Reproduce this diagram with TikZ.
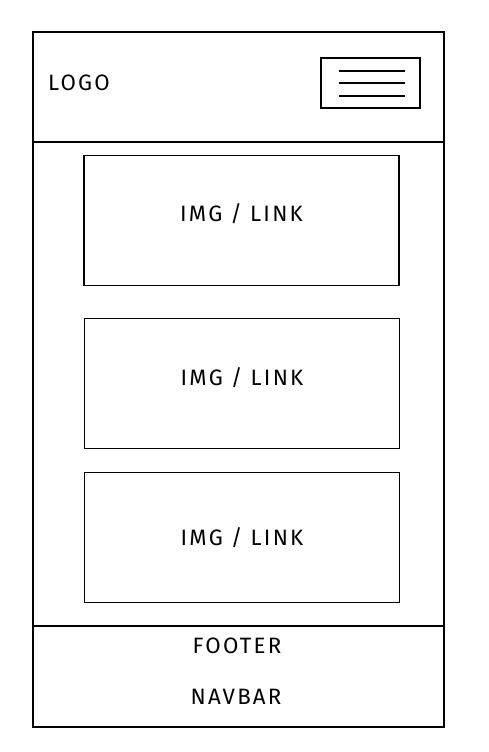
\documentclass[tikz,border=0pt]{standalone}
\usepackage{fontspec}
\setmainfont{Fira Sans}[LetterSpace=10]
\begin{document}
\begin{tikzpicture}[
    x=0.3mm, y=-0.3mm,
    frame/.style={
      rectangle,
      draw,
      line width=1.1pt,
      inner sep=0pt
    },
    card/.style={
      frame,
      minimum width=94.5mm,
      minimum height=39mm
    },
    lbl/.style={
      font=\fontsize{19}{22}\selectfont,
      inner sep=0pt
    }
  ]

  \useasboundingbox (0, 0) rectangle (488, 752);

  \node[frame, minimum width=123.3mm, minimum height=208.5mm] (page) at (238.5, 379.5) {};
  \node[frame, minimum width=123.3mm, minimum height=33mm] (header) at (238.5, 87) {};
  \node[frame, minimum width=123.3mm, minimum height=30.3mm] (footer) at (238.5, 676.5) {};

  \node[lbl, anchor=west] (logo) at (48, 83) {LOGO};
  \node[frame, line width=0.9pt, minimum width=29.7mm, minimum height=15mm] (menu) at (370.5, 83) {};
  \foreach \y in {71, 83, 96}
    \draw[line width=0.9pt] (339, \y) -- (405, \y);

  \node[card, label={[lbl, yshift=6pt]center:IMG / LINK}] (card1) at (241.5, 220.5) {};
  \node[card, label={[lbl, yshift=5pt]center:IMG / LINK}] (card2) at (242, 383.5) {};
  \node[card, label={[lbl]center:IMG / LINK}] (card3) at (242, 537.5) {};

  \node[lbl] (foot) at (237, 646) {FOOTER};
  \node[lbl] (navbar) at (236, 697) {NAVBAR};

\end{tikzpicture}
\end{document}
